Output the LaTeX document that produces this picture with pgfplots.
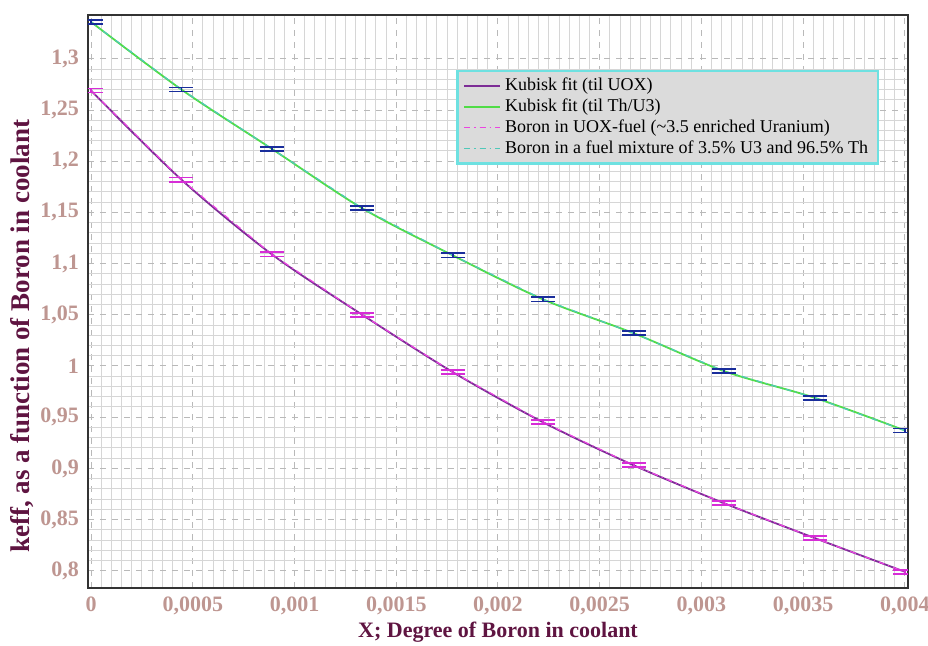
\documentclass[border=0pt]{standalone}
\usepackage{pgfplots}
\pgfplotsset{compat=1.18}
\usepackage{pgfplotstable}
\usepackage{fontspec}
\setmainfont{Liberation Serif}

\definecolor{ticklab}{RGB}{190,150,145}
\definecolor{axlab}{RGB}{95,20,65}
\definecolor{fituox}{RGB}{125,45,150}
\definecolor{fitth}{RGB}{80,220,70}
\definecolor{datuox}{RGB}{235,70,225}
\definecolor{datth}{RGB}{80,200,185}
\definecolor{erruox}{RGB}{215,45,215}
\definecolor{errth}{RGB}{25,45,155}
\definecolor{legcyan}{RGB}{110,225,225}
\definecolor{gridminor}{RGB}{214,214,214}
\definecolor{gridmajor}{RGB}{185,185,185}

% legend sample: a short stroke in the given colour, width and dash
\newcommand\legline[3]{%
  \pgfsetcolor{#1}\pgfsetstrokecolor{#1}\pgfsetlinewidth{#2}#3%
  \pgfpathmoveto{\pgfpoint{0pt}{0pt}}\pgfpathlineto{\pgfpoint{18pt}{0pt}}%
  \pgfusepath{stroke}%
  \pgfsetstrokecolor{#1}%
  \pgfpathmoveto{\pgfpoint{0pt}{0pt}}\pgfpathlineto{\pgfpoint{18pt}{0pt}}%
  \pgfusepath{stroke}}

% k_eff versus boron content, UOX fuel and Th/U3 mixture
\pgfplotstableread{
x        uox    uoxerr  th     therr
0        1.269  0.002   1.336  0.002
0.000444 1.182  0.002   1.270  0.002
0.000889 1.109  0.002   1.212  0.002
0.001333 1.050  0.002   1.154  0.002
0.001778 0.994  0.002   1.108  0.002
0.002222 0.945  0.002   1.065  0.002
0.002667 0.903  0.002   1.032  0.002
0.003111 0.866  0.002   0.995  0.002
0.003556 0.832  0.002   0.969  0.002
0.004000 0.799  0.002   0.937  0.002
}\boron

\pgfplotsset{
  errbar/.style={forget plot, draw=none, mark=none,
    error bars/.cd, y dir=both, y explicit,
    error bar style={draw=#1, line width=0.8pt, solid},
    error mark options={draw=#1, rotate=90, mark size=6pt, line width=0.9pt, solid}},
}

\begin{document}
\begin{tikzpicture}
\begin{axis}[
  at={(0,0)}, anchor=south west,
  scale only axis, width=410pt, height=286.5pt,
  xmin=-0.000015, xmax=0.004015,
  ymin=0.7832, ymax=1.3428,
  scaled x ticks=false, scaled y ticks=false,
  xtick={0,0.0005,0.001,0.0015,0.002,0.0025,0.003,0.0035,0.004},
  xticklabels={0,{0,0005},{0,001},{0,0015},{0,002},{0,0025},{0,003},{0,0035},{0,004}},
  ytick={0.8,0.85,0.9,0.95,1,1.05,1.1,1.15,1.2,1.25,1.3},
  yticklabels={{0,8},{0,85},{0,9},{0,95},1,{1,05},{1,1},{1,15},{1,2},{1,25},{1,3}},
  minor x tick num=9, minor y tick num=4,
  major tick length=0pt, minor tick length=0pt,
  grid=both,
  minor grid style={gridminor, line width=0.5pt},
  major grid style={gridmajor, dashed, line width=0.5pt},
  axis line style={black!80, line width=1.1pt},
  ticklabel style={font=\fontsize{11}{13}\selectfont\bfseries, text=ticklab},
  xticklabel style={yshift=-1pt},
  yticklabel style={xshift=-1pt},
  xlabel={X; Degree of Boron in coolant},
  ylabel={keff, as a function of Boron in coolant},
  label style={font=\fontsize{11}{13}\selectfont\bfseries, text=axlab},
  xlabel style={at={(axis description cs:0.5,0)}, anchor=base, yshift=-25pt},
  ylabel style={at={(axis description cs:-0.081,0.439)}, anchor=center,
    font=\fontsize{13.5}{15}\selectfont\bfseries},
  legend style={at={(rel axis cs:0.449,0.904)}, anchor=north west,
    fill=black!14, draw=legcyan, line width=1.2pt,
    font=\fontsize{9}{11}\selectfont, inner xsep=3pt, inner ysep=1.5pt,
    row sep=-1.4pt},
  legend cell align=left,
]
% legend samples
\addlegendimage{legend image code/.code={\legline{fituox}{0.9pt}{}}}
\addlegendentry{Kubisk fit (til UOX)}
\addlegendimage{legend image code/.code={\legline{fitth}{0.9pt}{}}}
\addlegendentry{Kubisk fit (til Th/U3)}
\addlegendimage{legend image code/.code={\legline{datuox}{0.7pt}{\pgfsetdash{{3pt}{2pt}{0.7pt}{2pt}}{0pt}}}}
\addlegendentry{Boron in UOX-fuel (\textasciitilde3.5 enriched Uranium)}
\addlegendimage{legend image code/.code={\legline{datth}{0.7pt}{\pgfsetdash{{3pt}{2pt}{0.7pt}{2pt}}{0pt}}}}
\addlegendentry{Boron in a fuel mixture of 3.5\% U3 and 96.5\% Th}
% cubic fits
\addplot[forget plot, color=fituox, line width=0.9pt, smooth, mark=none] table[x=x, y=uox] {\boron};
\addplot[forget plot, color=fitth, line width=0.9pt, smooth, mark=none] table[x=x, y=th] {\boron};
% simulated points
\addplot[forget plot, color=datuox, line width=0.6pt, dash dot, mark=none] table[x=x, y=uox] {\boron};
\addplot[forget plot, color=datth, line width=0.6pt, dash dot, mark=none] table[x=x, y=th] {\boron};
% their uncertainties, one point at a time
\addplot[errbar=erruox] coordinates {(0,1.269) +- (0,0.002)};
\addplot[errbar=erruox] coordinates {(0.000444,1.182) +- (0,0.002)};
\addplot[errbar=erruox] coordinates {(0.000889,1.109) +- (0,0.002)};
\addplot[errbar=erruox] coordinates {(0.001333,1.050) +- (0,0.002)};
\addplot[errbar=erruox] coordinates {(0.001778,0.994) +- (0,0.002)};
\addplot[errbar=erruox] coordinates {(0.002222,0.945) +- (0,0.002)};
\addplot[errbar=erruox] coordinates {(0.002667,0.903) +- (0,0.002)};
\addplot[errbar=erruox] coordinates {(0.003111,0.866) +- (0,0.002)};
\addplot[errbar=erruox] coordinates {(0.003556,0.832) +- (0,0.002)};
\addplot[errbar=erruox] coordinates {(0.004000,0.799) +- (0,0.002)};
\addplot[errbar=errth] coordinates {(0,1.336) +- (0,0.002)};
\addplot[errbar=errth] coordinates {(0.000444,1.270) +- (0,0.002)};
\addplot[errbar=errth] coordinates {(0.000889,1.212) +- (0,0.002)};
\addplot[errbar=errth] coordinates {(0.001333,1.154) +- (0,0.002)};
\addplot[errbar=errth] coordinates {(0.001778,1.108) +- (0,0.002)};
\addplot[errbar=errth] coordinates {(0.002222,1.065) +- (0,0.002)};
\addplot[errbar=errth] coordinates {(0.002667,1.032) +- (0,0.002)};
\addplot[errbar=errth] coordinates {(0.003111,0.995) +- (0,0.002)};
\addplot[errbar=errth] coordinates {(0.003556,0.969) +- (0,0.002)};
\addplot[errbar=errth] coordinates {(0.004000,0.937) +- (0,0.002)};
\end{axis}
\pgfresetboundingbox
\path[use as bounding box] (-44pt,-29pt) rectangle (420pt,294pt);
\end{tikzpicture}
\end{document}
